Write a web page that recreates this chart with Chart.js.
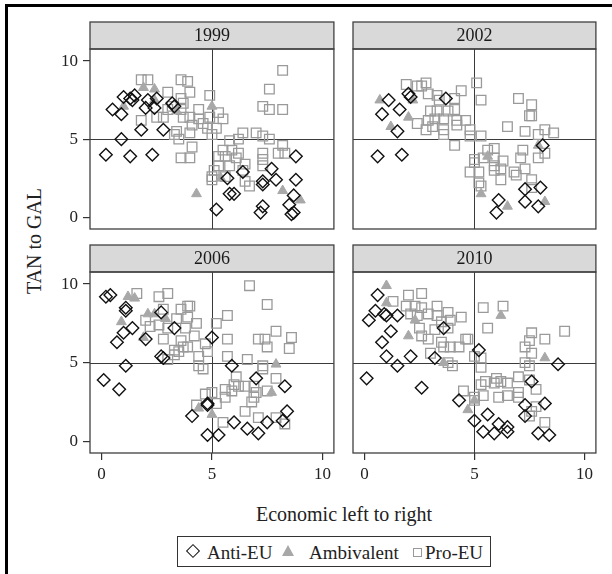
<!DOCTYPE html>
<html><head><meta charset="utf-8">
<script src="https://cdn.jsdelivr.net/npm/chart.js@4/dist/chart.umd.min.js"></script>
<style>
body{margin:0;background:#fff;}
#wrap{position:relative;width:612px;height:574px;overflow:hidden;background:#fff;font-family:"Liberation Serif","DejaVu Serif",serif;color:#222;}
#frame{position:absolute;left:5px;top:4px;width:700px;height:700px;border-left:3px solid #000;border-top:3px solid #000;}
canvas{position:absolute;}
.txt{position:absolute;white-space:nowrap;font-size:19px;line-height:19px;}
#legend{position:absolute;left:177px;top:536px;width:314px;height:31px;border:1px solid #333;box-sizing:border-box;}
.mk{position:absolute;}
</style></head>
<body><div id="wrap">
<div id="frame"></div>
<div class="txt" id="ytitle" style="left:34px;top:241px;font-size:20px;transform:translate(-50%,-50%) rotate(-90deg);">TAN to GAL</div>
<div class="txt" id="xtitle" style="left:344px;top:514px;font-size:20px;transform:translate(-50%,-50%);">Economic left to right</div>
<div id="legend">
  <span class="mk" style="left:10px;top:9px;width:8px;height:8px;border:1.4px solid #111;transform:rotate(45deg);"></span>
  <span class="txt" style="left:29px;top:6px;">Anti-EU</span>
  <span class="mk" style="left:104px;top:8px;width:0;height:0;border-left:6px solid transparent;border-right:6px solid transparent;border-bottom:11px solid #a8a8a8;"></span>
  <span class="txt" style="left:131px;top:6px;">Ambivalent</span>
  <span class="mk" style="left:235px;top:11px;width:7px;height:7px;border:1px solid #999;"></span>
  <span class="txt" style="left:247px;top:6px;">Pro-EU</span>
</div>
</div>
<script>
const yearLabels = ['1999','2002','2006','2010'];
const xTicks = [0,5,10];
const yTicks = [0,5,10];

const anti1999 = [[0.5,6.9],[0.9,6.6],[1.0,7.7],[1.3,7.6],[1.5,7.8],[1.4,7.5],[2.1,7.5],[2.0,7.0],[2.4,7.0],[2.5,7.6],[3.2,7.3],[3.3,7.1],[1.8,5.6],[2.8,5.6],[0.9,5.0],[0.2,4.0],[1.3,3.9],[2.3,4.0],[8.8,3.9],[7.7,3.1],[7.9,2.4],[7.3,2.1],[7.3,2.3],[5.8,1.5],[6.0,1.5],[5.7,2.5],[8.8,2.4],[8.7,1.4],[5.2,0.5],[7.3,0.7],[7.2,0.3],[8.5,0.8],[8.7,0.3],[8.6,0.2],[6.4,2.9]];
const amb1999 = [[1.9,8.3],[2.4,8.2],[2.4,7.5],[1.0,7.1],[5.0,7.1],[3.4,6.8],[4.3,1.5],[8.2,1.7],[9.0,1.1],[5.4,2.5]];
const pro1999 = [[8.2,9.4],[1.8,8.8],[2.1,8.8],[3.6,8.8],[3.9,8.7],[4.0,8.0],[3.6,7.6],[3.0,8.0],[7.6,8.2],[4.9,7.8],[7.3,7.1],[7.6,6.9],[8.2,6.9],[3.7,7.3],[3.2,7.1],[3.0,6.9],[3.6,6.9],[4.4,6.9],[2.5,6.4],[2.8,6.4],[3.7,6.4],[4.0,6.4],[4.4,6.3],[4.9,6.4],[5.3,6.7],[5.5,6.3],[1.8,6.2],[4.1,5.9],[4.6,6.0],[4.8,5.7],[5.2,5.7],[5.0,5.3],[3.4,5.5],[3.3,5.3],[3.5,5.0],[4.0,5.4],[4.1,4.5],[3.6,3.8],[4.0,3.8],[6.4,5.4],[7.0,5.4],[7.3,5.2],[7.6,5.0],[8.2,4.6],[7.3,4.1],[8.0,4.1],[8.3,4.1],[5.8,4.9],[6.2,5.0],[5.5,4.3],[5.9,4.3],[6.2,4.1],[5.6,3.9],[6.1,3.8],[5.3,3.9],[5.3,3.3],[5.8,3.3],[6.5,3.4],[7.3,3.7],[7.3,3.3],[5.0,2.6],[5.0,2.4],[5.6,2.6],[6.5,2.3],[6.7,2.0],[6.4,3.0],[5.1,3.0]];

const anti2002 = [[1.1,7.5],[0.8,6.6],[1.6,6.9],[2.0,7.9],[2.1,7.7],[3.7,7.6],[1.5,5.5],[0.6,3.9],[1.7,4.0],[8.1,4.6],[7.3,1.8],[8.0,1.9],[7.3,1.0],[6.1,1.1],[6.0,0.3],[7.9,0.7]];
const amb2002 = [[0.7,7.5],[2.2,7.5],[2.0,6.4],[1.2,5.8],[5.6,3.9],[7.9,4.6],[5.3,1.5],[6.5,0.7],[8.2,1.0]];
const pro2002 = [[1.9,8.5],[2.4,8.4],[2.8,8.6],[2.6,8.4],[2.9,7.9],[3.3,7.8],[3.4,7.5],[4.4,8.1],[4.1,7.6],[5.1,8.6],[5.3,7.5],[7.0,7.6],[7.6,7.2],[7.5,6.5],[7.6,6.5],[3.0,6.8],[3.3,6.8],[3.8,6.8],[4.1,6.9],[2.9,6.2],[3.2,6.3],[3.6,6.3],[4.2,6.2],[4.6,6.2],[2.4,6.0],[2.8,5.6],[3.1,5.8],[3.6,5.6],[4.2,5.9],[4.8,5.6],[3.6,5.3],[4.8,5.2],[5.3,5.2],[4.1,4.6],[6.5,5.8],[7.3,5.5],[7.9,5.3],[8.2,5.6],[8.6,5.4],[8.2,4.1],[7.9,3.8],[7.2,4.3],[7.1,3.8],[5.6,4.3],[5.9,4.4],[5.9,3.8],[5.4,3.8],[5.0,3.5],[5.0,3.7],[6.3,3.6],[5.9,3.3],[6.2,3.1],[5.9,3.0],[4.8,2.9],[5.2,2.9],[6.8,2.9],[7.3,3.1],[6.9,2.7],[6.2,2.4],[7.6,2.4],[5.2,2.2],[5.3,2.0],[7.6,1.9]];

const anti2006 = [[0.2,9.2],[0.4,9.3],[1.1,8.5],[1.1,8.3],[1.4,7.2],[1.0,6.9],[0.7,6.3],[2.0,6.5],[2.7,8.2],[3.3,7.2],[2.7,5.4],[2.8,5.3],[1.1,4.8],[0.1,3.9],[0.8,3.3],[5.0,6.6],[5.9,4.8],[7.0,4.0],[8.3,3.5],[4.8,2.4],[4.8,2.3],[4.1,1.6],[6.0,1.2],[6.6,0.8],[7.1,0.5],[7.5,1.2],[8.2,1.3],[8.4,1.9],[4.8,0.4],[5.3,0.4]];
const amb2006 = [[1.2,9.2],[1.5,9.1],[2.1,8.1],[2.4,8.1],[2.9,7.8],[0.9,7.6],[1.9,6.6],[7.9,4.9],[7.7,3.1],[4.4,2.1],[5.0,1.7]];
const pro2006 = [[1.6,9.4],[2.6,9.2],[3.0,9.4],[6.7,9.9],[7.5,8.7],[3.9,8.6],[4.0,8.6],[3.6,8.4],[2.8,8.4],[3.9,7.9],[4.3,7.5],[3.4,7.8],[2.0,7.7],[2.2,7.3],[2.6,7.4],[3.0,7.2],[3.8,7.2],[4.2,6.7],[5.2,7.5],[5.7,8.0],[2.8,6.5],[3.6,6.4],[3.7,6.0],[3.9,6.0],[3.3,5.8],[3.5,5.7],[3.0,5.2],[3.3,5.5],[4.7,6.2],[4.8,5.7],[4.4,5.4],[4.4,4.8],[4.6,4.6],[5.7,6.5],[5.7,5.4],[6.6,5.2],[7.1,6.5],[7.4,6.5],[7.5,6.0],[7.9,7.0],[8.6,6.6],[8.5,5.9],[7.3,4.8],[7.3,4.6],[7.9,4.0],[6.1,4.1],[6.0,3.6],[5.6,3.3],[5.9,3.2],[6.2,3.5],[6.5,3.5],[6.9,3.5],[7.0,3.1],[6.9,2.8],[6.8,2.5],[5.0,3.1],[4.7,3.0],[5.6,2.8],[5.2,2.4],[4.3,2.3],[6.5,1.9],[7.1,1.5],[7.9,1.5],[8.3,1.1],[5.5,1.2],[7.5,3.2]];

const anti2010 = [[0.6,9.3],[0.5,8.3],[0.2,7.7],[0.9,8.1],[1.0,8.0],[1.5,8.0],[1.2,7.0],[0.8,6.3],[1.0,5.4],[1.5,4.8],[2.1,5.4],[3.2,5.3],[3.6,7.2],[0.1,4.0],[2.6,3.4],[5.2,5.8],[8.8,4.9],[7.6,3.8],[4.3,2.6],[5.0,1.3],[5.6,1.7],[7.3,2.3],[8.2,2.4],[7.3,1.6],[5.4,0.6],[5.9,0.5],[6.1,1.1],[6.5,0.9],[6.5,0.6],[7.9,0.5],[8.4,0.4]];
const amb2010 = [[1.0,9.9],[1.0,8.8],[2.3,7.7],[2.0,6.7],[6.2,8.0],[8.2,5.3],[3.6,5.0],[4.7,2.0],[5.0,2.6]];
const pro2010 = [[2.0,9.3],[2.6,9.4],[1.3,8.9],[1.9,8.6],[2.3,8.6],[2.6,8.5],[3.3,8.6],[2.1,8.1],[2.4,8.0],[2.9,8.1],[3.3,8.0],[3.8,8.2],[4.4,7.9],[3.9,7.7],[3.5,7.6],[2.5,7.2],[3.2,7.1],[3.8,7.2],[2.6,6.7],[2.9,6.5],[3.5,6.3],[3.6,6.0],[3.9,6.0],[4.3,6.0],[4.6,6.5],[4.7,6.5],[3.0,5.6],[3.8,5.0],[4.0,4.8],[5.4,8.5],[6.3,8.6],[5.6,7.2],[7.6,6.9],[8.2,6.5],[9.1,7.0],[7.5,6.4],[7.3,6.0],[7.6,5.6],[7.3,5.0],[7.5,4.8],[5.0,5.4],[5.3,4.7],[5.3,5.3],[7.0,4.1],[6.0,4.0],[5.9,3.7],[6.2,3.8],[5.5,3.8],[5.3,3.6],[6.5,3.7],[7.5,3.9],[7.8,3.3],[4.5,3.2],[5.0,2.8],[6.1,2.8],[6.5,2.9],[7.0,3.1],[7.0,2.8],[5.4,2.9],[5.0,2.6],[7.8,2.2],[7.6,1.9],[7.5,1.6],[8.2,1.2]];

const panels = [
  {title:yearLabels[0], anti:anti1999, amb:amb1999, pro:pro1999, showY:true,  showX:false, plot:[90,49,339,229], head:22},
  {title:yearLabels[1], anti:anti2002, amb:amb2002, pro:pro2002, showY:false, showX:false, plot:[353,49,601,229], head:22},
  {title:yearLabels[2], anti:anti2006, amb:amb2006, pro:pro2006, showY:true,  showX:true,  plot:[90,272,339,453], head:245},
  {title:yearLabels[3], anti:anti2010, amb:amb2010, pro:pro2010, showY:false, showX:true,  plot:[353,272,601,453], head:245}
];

const SERIF = '"Liberation Serif", "DejaVu Serif", serif';

const panelPlugin = {
  id: 'panelDeco',
  beforeDatasetsDraw(chart){
    const {ctx, chartArea:a, scales:{x, y}} = chart;
    const xp = Math.round(x.getPixelForValue(5)) + 0.5;
    const yp = Math.round(y.getPixelForValue(5)) + 0.5;
    ctx.save();
    ctx.strokeStyle = '#3a3a3a';
    ctx.lineWidth = 1;
    ctx.beginPath();
    ctx.moveTo(xp, a.top); ctx.lineTo(xp, a.bottom);
    ctx.moveTo(a.left, yp); ctx.lineTo(a.right, yp);
    ctx.stroke();
    ctx.restore();
  },
  afterDatasetsDraw(chart, args, opts){
    const {ctx, chartArea:a} = chart;
    ctx.save();
    ctx.fillStyle = '#d9d9d9';
    ctx.fillRect(a.left, opts.headTop, a.right - a.left, a.top - opts.headTop);
    ctx.strokeStyle = '#404040';
    ctx.lineWidth = 1.3;
    ctx.strokeRect(a.left, opts.headTop, a.right - a.left, a.top - opts.headTop);
    ctx.strokeRect(a.left, a.top, a.right - a.left, a.bottom - a.top);
    ctx.fillStyle = '#1a1a1a';
    ctx.font = '18px ' + SERIF;
    ctx.textAlign = 'center';
    ctx.textBaseline = 'middle';
    ctx.fillText(opts.title, (a.left + a.right) / 2, (opts.headTop + a.top) / 2 + 1);
    ctx.restore();
  }
};

const wrap = document.getElementById('wrap');
const toPts = arr => arr.map(([x, y]) => ({x, y}));

panels.forEach(p => {
  const padL = 45, padB = 34, padR = 3;
  const cl = p.plot[0] - padL, ct = p.head - 2;
  const w = p.plot[2] - cl + padR, h = p.plot[3] - ct + padB;
  const cv = document.createElement('canvas');
  cv.width = w; cv.height = h;
  cv.style.left = cl + 'px'; cv.style.top = ct + 'px';
  cv.style.width = w + 'px'; cv.style.height = h + 'px';
  wrap.appendChild(cv);
  new Chart(cv, {
    type: 'scatter',
    data: {datasets: [
      {label:'Anti-EU', data:toPts(p.anti), pointStyle:'rectRot', pointRadius:6.3, borderColor:'#111', backgroundColor:'rgba(0,0,0,0)', borderWidth:1.4},
      {label:'Ambivalent', data:toPts(p.amb), pointStyle:'triangle', pointRadius:5.7, borderColor:'#a8a8a8', backgroundColor:'#a8a8a8', borderWidth:1},
      {label:'Pro-EU', data:toPts(p.pro), pointStyle:'rect', pointRadius:6.8, borderColor:'#9a9a9a', backgroundColor:'rgba(0,0,0,0)', borderWidth:1.3}
    ]},
    options: {
      responsive: false, animation: false, events: [],
      layout: {padding: {top: p.plot[1] - ct, right: padR, left: 0, bottom: 0}},
      plugins: {legend: {display: false}, tooltip: {enabled: false},
        panelDeco: {title: p.title, headTop: 2}},
      scales: {
        x: {type:'linear', min:-0.52, max:10.52,
          afterBuildTicks: s => { s.ticks = xTicks.map(v => ({value: v})); },
          afterFit: s => { s.height = padB; },
          ticks: {display: p.showX, font: {family: SERIF, size: 17}, color: '#222', padding: 4, maxRotation: 0},
          grid: {drawOnChartArea: false, drawTicks: p.showX, tickLength: 7, color: '#333', lineWidth: 1.2},
          border: {display: false}},
        y: {type:'linear', min:-0.75, max:10.77,
          afterBuildTicks: s => { s.ticks = yTicks.map(v => ({value: v})); },
          afterFit: s => { s.width = padL; },
          ticks: {display: p.showY, font: {family: SERIF, size: 17}, color: '#222', padding: 5},
          grid: {drawOnChartArea: false, drawTicks: p.showY, tickLength: 7, color: '#333', lineWidth: 1.2},
          border: {display: false}}
      }
    },
    plugins: [panelPlugin]
  });
});
</script>
</body></html>
